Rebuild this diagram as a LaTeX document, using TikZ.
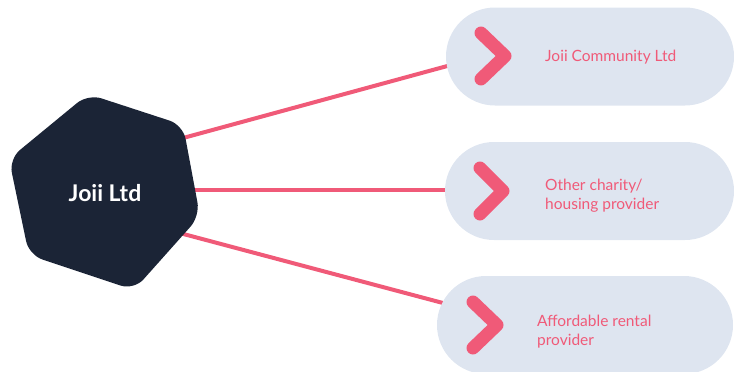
\documentclass[tikz,border=0pt]{standalone}
\usepackage{fontspec}
\setmainfont{Lato}
\definecolor{pinkc}{HTML}{F05A78}
\definecolor{pillc}{HTML}{DEE5F0}
\definecolor{navy}{HTML}{1B2436}
\begin{document}
\begin{tikzpicture}[x=1pt,y=-1pt,
  conn/.style={draw=pinkc, line width=4pt},
  pill/.style={fill=pillc, draw=none, rectangle, rounded corners=49pt, inner sep=0pt, minimum height=98pt},
  chev/.style={draw=pinkc, line width=13pt, line cap=round, line join=round},
  lbl/.style={anchor=west, align=left, text=pinkc, font=\fontsize{15.5}{19}\selectfont, inner sep=0pt},
  hexlbl/.style={text=white, font=\fontsize{23}{26}\selectfont\bfseries, inner sep=0pt}]
\useasboundingbox (0,0) rectangle (734,372);
% connector end points
\coordinate (h1) at (175,140.2);
\coordinate (h2) at (185,190);
\coordinate (h3) at (180,233.1);
\coordinate (e1) at (462,62);
\coordinate (e2) at (462,190);
\coordinate (e3) at (458,307);
% connectors (under shapes)
\draw[conn] (h1) -- (e1);
\draw[conn] (h2) -- (e2);
\draw[conn] (h3) -- (e3);
% hexagon
\fill[navy, rounded corners=14pt] (88,94) -- (183,125) -- (200,216) -- (134,290) -- (29,255) -- (9,159) -- cycle;
\node[hexlbl] (hex) at (105,193) {Joii Ltd};
% pills
\node[pill, minimum width=288pt] (p1) at (590,56.5) {};
\node[pill, minimum width=289pt] (p2) at (589.5,191) {};
\node[pill, minimum width=296pt] (p3) at (585,325) {};
% chevrons
\draw[chev] (481,33) -- (505,56) -- (481,79);
\draw[chev] (480,168) -- (503,191) -- (480,214);
\draw[chev] (473,302) -- (497,325) -- (473,348);
% labels
\node[lbl] (t1) at (545,57) {Joii Community Ltd};
\node[lbl] (t2) at (545,195.5) {Other charity/\\housing provider};
\node[lbl] (t3) at (537,332) {Affordable rental\\provider};
\end{tikzpicture}
\end{document}
